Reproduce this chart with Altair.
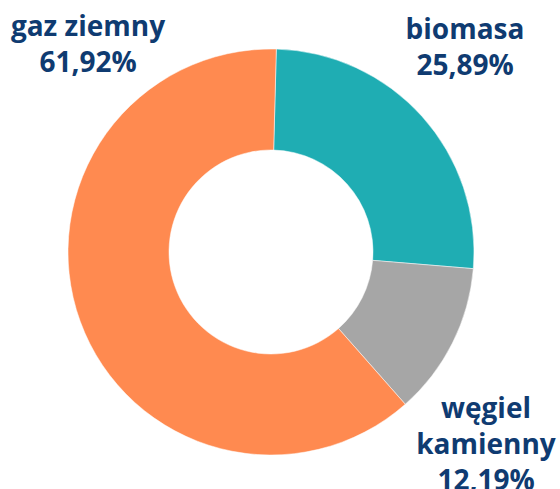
import math
import altair as alt
import pandas as pd

categories = ["biomasa", "węgiel kamienny", "gaz ziemny"]
shares = [25.89, 12.19, 61.92]
share_labels = ["25,89%", "12,19%", "61,92%"]
name_lines = [["biomasa"], ["węgiel", "kamienny"], ["gaz ziemny"]]
colors = ["#1FADB3", "#A6A6A6", "#FF8A50"]

df = pd.DataFrame({
    "category": categories,
    "share": shares,
    "order": list(range(len(categories))),
    "label": ["\n".join(n + [s]) for n, s in zip(name_lines, share_labels)],
})

cx, cy = 271, 252
start = math.radians(1.5)

arcs = alt.Chart(df).mark_arc(
    outerRadius=203, innerRadius=102, stroke="white", strokeWidth=0.5
).encode(
    theta=alt.Theta("share:Q", stack=True,
                    scale=alt.Scale(range=[start, start + 2 * math.pi])),
    order=alt.Order("order:Q"),
    color=alt.Color("category:N", scale=alt.Scale(domain=categories, range=colors), legend=None),
    x=alt.value(cx),
    y=alt.value(cy),
)

label_pos = {"biomasa": (465, 39), "węgiel kamienny": (486, 418), "gaz ziemny": (88, 36)}

layers = [arcs]
for cat, (lx, ly) in label_pos.items():
    layers.append(
        alt.Chart(df).transform_filter(alt.datum.category == cat).mark_text(
            font="Open Sans", fontWeight="bold", fontSize=28, color="#0F3B71",
            align="center", baseline="alphabetic", lineBreak="\n", lineHeight=36,
        ).encode(text="label:N", x=alt.value(lx), y=alt.value(ly))
    )

chart = alt.layer(*layers).properties(
    width=560, height=489, autosize=alt.AutoSizeParams(type="none"), padding=0
).configure_view(stroke=None)

chart.save("out.html", embed_options={"renderer": "svg", "actions": False})
